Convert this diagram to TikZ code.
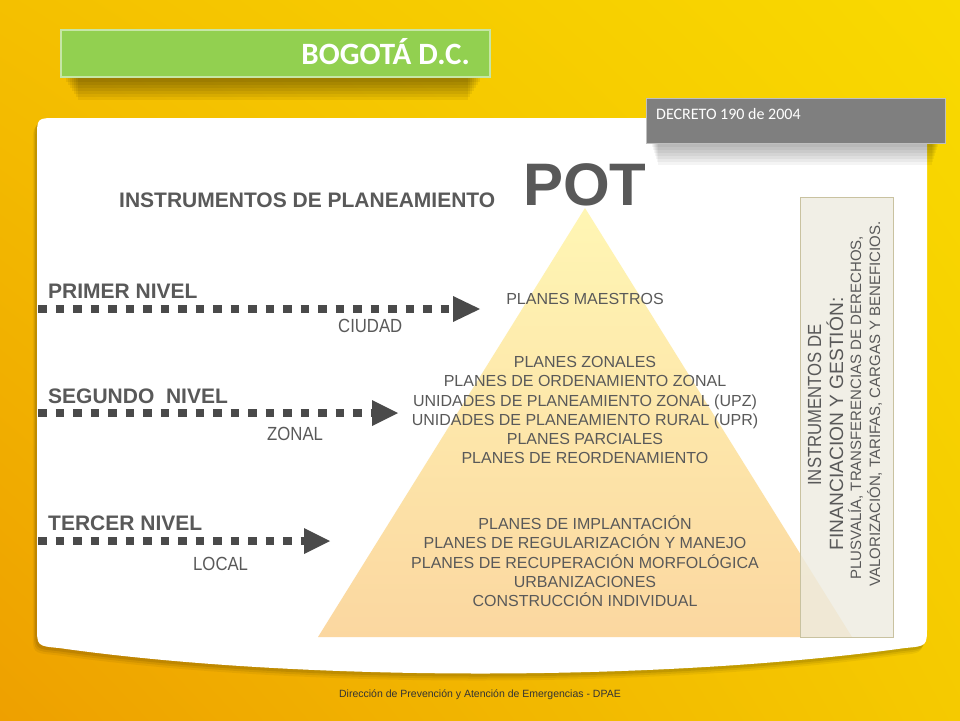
\documentclass[tikz,border=0pt]{standalone}
\usepackage{fontspec}
\setmainfont{Liberation Sans}
\newfontfamily\calfont{Carlito}
\newfontfamily\narrowfont[FakeStretch=0.88]{Liberation Sans}
\usetikzlibrary{arrows.meta,shadings}
\definecolor{txtgray}{HTML}{595959}
\definecolor{arrcol}{HTML}{4A4A4A}
\definecolor{bgUL}{HTML}{F4C000}
\definecolor{bgUR}{HTML}{F9DA00}
\definecolor{bgLL}{HTML}{EEA000}
\definecolor{bgLR}{HTML}{F5CA00}
\definecolor{bannergreen}{HTML}{92D050}
\definecolor{bannerline}{HTML}{C6E6A6}
\definecolor{decgray}{HTML}{7F7F7F}
\definecolor{decline}{HTML}{BFBFBF}
\definecolor{pyrTop}{HTML}{FFF6B4}
\definecolor{pyrBot}{HTML}{FBD7A0}
\definecolor{boxfill}{HTML}{EEECE1}
\definecolor{boxline}{HTML}{C9C2A0}
\definecolor{foot}{HTML}{333333}
\tikzset{
  lvl/.style={anchor=base west, inner sep=0pt, text=txtgray, font=\fontsize{21}{25}\selectfont\bfseries},
  sub/.style={anchor=base west, inner sep=0pt, text=txtgray, font=\narrowfont\fontsize{19}{22}\selectfont},
  pyr/.style={anchor=base, inner sep=0pt, text=txtgray, font=\fontsize{16}{19}\selectfont},
  rot/.style={anchor=base, inner sep=0pt, text=txtgray, rotate=90},
  dots/.style={draw=arrcol, line width=8.5pt, dash pattern=on 8.5pt off 9pt},
  head/.style={fill=arrcol}
}
\begin{document}
\begin{tikzpicture}[x=1pt,y=-1pt]
\useasboundingbox (0,0) rectangle (960,720);
% background
\shade[upper left=bgUL, upper right=bgUR, lower left=bgLL, lower right=bgLR] (0,0) rectangle (960,720);
% panel shadow
\foreach \s/\o in {7/0.05,5/0.07,3/0.09}{
\fill[black, opacity=\o, xshift=-\s pt*0.6, yshift=-\s pt] (37,138) .. controls (37,118) .. (57,118) -- (907,118) .. controls (927,118) .. (927,138) -- (927,626) .. controls (927,646) .. (905,648) .. controls (660,682) and (300,682) .. (59,648) .. controls (37,646) .. (37,626) -- cycle;
}
% panel
\fill[white] (37,138) .. controls (37,118) .. (57,118) -- (907,118) .. controls (927,118) .. (927,138) -- (927,626) .. controls (927,646) .. (905,648) .. controls (660,682) and (300,682) .. (59,648) .. controls (37,646) .. (37,626) -- cycle;
% banner shadow
\foreach \k in {0,...,6}{
\fill[black, opacity=0.06] (66+\k*2,77) rectangle (480-\k*2,82+\k*3);
}
% banner
\fill[bannergreen] (61,30) rectangle (490,77);
\draw[bannerline, line width=1.5pt] (61,30) rectangle (490,77);
\node[anchor=base east, inner sep=0pt, text=white, font=\calfont\fontsize{31}{34}\selectfont\bfseries] (bogota) at (470,64) {BOGOTÁ D.C.};
% decreto box shadow
\foreach \k in {0,...,6}{
\fill[black, opacity=0.045] (652+\k,143) rectangle (938-\k,147+\k*3);
}
\fill[decgray] (646,98) rectangle (945,143);
\draw[decline, line width=1pt] (646,98) rectangle (945,143);
\node[anchor=base west, inner sep=0pt, text=white, font=\calfont\fontsize{16}{19}\selectfont] (decreto) at (656,119) {DECRETO 190 de 2004};
% pyramid
\shade[top color=pyrTop, bottom color=pyrBot] (585,208) -- (852,637) -- (318,637) -- cycle;
% titles
\node[anchor=base west, inner sep=0pt, text=txtgray, font=\fontsize{21}{25}\selectfont\bfseries] (instr) at (119,207) {INSTRUMENTOS DE PLANEAMIENTO};
\node[anchor=base west, inner sep=0pt, text=txtgray, font=\fontsize{60}{64}\selectfont\bfseries] (pot) at (523,205) {POT};
% levels
\node[lvl] (n1) at (48,298) {PRIMER NIVEL};
\node[sub] (c1) at (338,332) {CIUDAD};
\node[lvl] (n2) at (48,403) {SEGUNDO\ \ NIVEL};
\node[sub] (c2) at (267,440) {ZONAL};
\node[lvl] (n3) at (48,530) {TERCER NIVEL};
\node[sub] (c3) at (193,570) {LOCAL};
% arrows
\coordinate (a1s) at (38,309); \coordinate (a1e) at (453,309);
\coordinate (a2s) at (38,413); \coordinate (a2e) at (372,413);
\coordinate (a3s) at (38,541); \coordinate (a3e) at (304,541);
\draw[dots] (a1s) -- (a1e);
\draw[dots] (a2s) -- (a2e);
\draw[dots] (a3s) -- (a3e);
\fill[head] (a1e) ++(0,-13) -- ++(27,13) -- ++(-27,13) -- cycle;
\fill[head] (a2e) ++(0,-13) -- ++(26,13) -- ++(-26,13) -- cycle;
\fill[head] (a3e) ++(0,-13) -- ++(26,13) -- ++(-26,13) -- cycle;
% pyramid texts
\node[pyr] (p1) at (585,304) {PLANES MAESTROS};
\node[pyr] (p2) at (585,367.7) {PLANES ZONALES};
\node[pyr] (p3) at (585,386.9) {PLANES DE ORDENAMIENTO ZONAL};
\node[pyr] (p4) at (585,406.1) {UNIDADES DE PLANEAMIENTO ZONAL (UPZ)};
\node[pyr] (p5) at (585,425.3) {UNIDADES DE PLANEAMIENTO RURAL (UPR)};
\node[pyr] (p6) at (585,444.5) {PLANES PARCIALES};
\node[pyr] (p7) at (585,463.7) {PLANES DE REORDENAMIENTO};
\node[pyr] (p8) at (585,529.7) {PLANES DE IMPLANTACIÓN};
\node[pyr] (p9) at (585,548.9) {PLANES DE REGULARIZACIÓN Y MANEJO};
\node[pyr] (p10) at (585,568.1) {PLANES DE RECUPERACIÓN MORFOLÓGICA};
\node[pyr] (p11) at (585,587.3) {URBANIZACIONES};
\node[pyr] (p12) at (585,606.5) {CONSTRUCCIÓN INDIVIDUAL};
% right box
\fill[boxfill, opacity=0.82] (800,197) rectangle (893,637);
\draw[boxline, line width=0.8pt] (800,197) rectangle (893,637);
\node[rot, font=\narrowfont\fontsize{19}{23}\selectfont] (r1) at (821,405) {INSTRUMENTOS DE};
\node[rot, font=\fontsize{19.2}{23}\selectfont] (r2) at (843,424) {FINANCIACION Y GESTIÓN:};
\node[rot, font=\fontsize{15}{18}\selectfont] (r3) at (861,408) {PLUSVALÍA, TRANSFERENCIAS DE DERECHOS,};
\node[rot, font=\fontsize{15}{18}\selectfont] (r4) at (880,404) {VALORIZACIÓN, TARIFAS, CARGAS Y BENEFICIOS.};
% footer
\node[anchor=base, inner sep=0pt, text=foot, font=\fontsize{10.5}{12}\selectfont] (footer) at (480,697) {Dirección de Prevención y Atención de Emergencias - DPAE};
\end{tikzpicture}
\end{document}
